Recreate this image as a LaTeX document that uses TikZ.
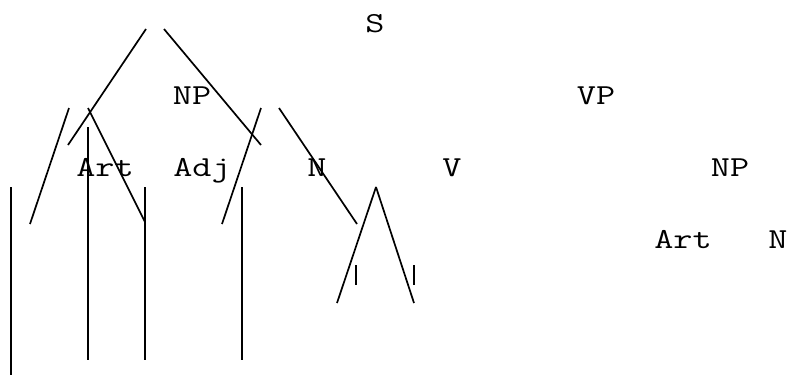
\documentclass[tikz,border=0pt]{standalone}
\usepackage{fontspec}
\newfontfamily\treefont[FakeStretch=1.28]{Latin Modern Mono}
\begin{document}
\begin{tikzpicture}[x=1pt,y=-1pt,
  lbl/.style={font=\treefont\fontsize{29}{32}\selectfont, anchor=base, inner sep=0pt},
  edge/.style={line width=1.7pt},
  tick/.style={line width=1.3pt}]
\useasboundingbox (0,0) rectangle (789,375);
% labels
\node[lbl] (S) at (375,32) {S};
\node[lbl] (NPa) at (192,104) {NP};
\node[lbl] (VP) at (596,104) {VP};
\node[lbl] (Arta) at (105,176) {Art};
\node[lbl] (Adj) at (202,176) {Adj};
\node[lbl] (Na) at (317,176) {N};
\node[lbl] (V) at (452,176) {V};
\node[lbl] (NPb) at (730,176) {NP};
\node[lbl] (Artb) at (683,248) {Art};
\node[lbl] (Nb) at (778,248) {N};
% line end points
\coordinate (a1) at (146,29);  \coordinate (a2) at (68,145);
\coordinate (b1) at (164,29);  \coordinate (b2) at (261,145);
\coordinate (c1) at (69,108);  \coordinate (c2) at (30,224);
\coordinate (d1) at (88,108);  \coordinate (d2) at (145,222);
\coordinate (e1) at (261,108); \coordinate (e2) at (222,224);
\coordinate (f1) at (279,108); \coordinate (f2) at (357,224);
\coordinate (g1) at (88,127);  \coordinate (g2) at (88,224);
\coordinate (h1) at (88,187);  \coordinate (h2) at (88,360);
\coordinate (i1) at (11,187);  \coordinate (i2) at (11,375);
\coordinate (j1) at (145,187); \coordinate (j2) at (145,360);
\coordinate (k1) at (242,187); \coordinate (k2) at (242,360);
\coordinate (t0) at (376,187); \coordinate (tl) at (337,303); \coordinate (tr) at (414,303);
\coordinate (m1) at (356,265); \coordinate (m2) at (356,285);
\coordinate (n1) at (414,265); \coordinate (n2) at (414,285);
% lines
\draw[edge] (a1) -- (a2);
\draw[edge] (b1) -- (b2);
\draw[edge] (c1) -- (c2);
\draw[edge] (d1) -- (d2);
\draw[edge] (e1) -- (e2);
\draw[edge] (f1) -- (f2);
\draw[edge] (g1) -- (g2);
\draw[edge] (h1) -- (h2);
\draw[edge] (i1) -- (i2);
\draw[edge] (j1) -- (j2);
\draw[edge] (k1) -- (k2);
\draw[edge] (t0) -- (tl);
\draw[edge] (t0) -- (tr);
\draw[tick] (m1) -- (m2);
\draw[tick] (n1) -- (n2);
\end{tikzpicture}
\end{document}
